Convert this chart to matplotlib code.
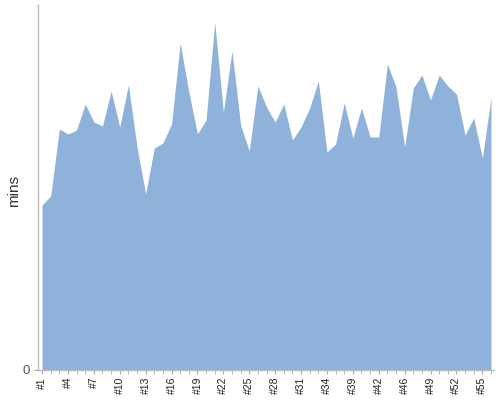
import matplotlib
matplotlib.use('Agg')
import matplotlib.pyplot as plt
from matplotlib import ticker

plt.rcParams['font.family'] = ['Liberation Sans', 'DejaVu Sans']

# run labels (only some are shown on the axis)
runs = ['#1', '#2', '#3', '#4', '#5', '#6', '#7', '#8', '#9', '#10',
        '#11', '#12', '#13', '#14', '#15', '#16', '#17', '#18', '#19', '#20',
        '#21', '#22', '#23', '#24', '#25', '#26', '#27', '#28', '#29', '#30',
        '#31', '#32', '#33', '#34', '#36', '#37', '#39', '#40', '#41', '#42',
        '#44', '#45', '#46', '#47', '#48', '#49', '#50', '#51', '#52', '#53',
        '#54', '#55', '#56']
# minutes per run
mins = [16.5, 17.4, 24.1, 23.6, 24.0, 26.6, 24.8, 24.4, 27.9, 24.3,
        28.5, 22.3, 17.6, 22.2, 22.7, 24.6, 32.7, 27.8, 23.6, 25.0,
        34.8, 25.8, 31.9, 24.5, 21.9, 28.4, 26.3, 24.8, 26.6, 23.0,
        24.3, 26.2, 28.9, 21.8, 22.6, 26.7, 23.2, 26.2, 23.3, 23.3,
        30.6, 28.3, 22.3, 28.2, 29.5, 27.0, 29.5, 28.4, 27.6, 23.5,
        25.2, 21.2, 27.2]

fig = plt.figure(figsize=(5, 4), dpi=100)
ax = fig.add_axes([0.076, 0.075, 0.912, 0.9125])

x = list(range(len(mins)))
ax.fill_between(x, mins, 0, color='#8FB2DA', linewidth=0)

ax.set_xlim(-0.47, len(mins) - 1 + 0.35)
ax.set_ylim(0, 36.5)

ax.set_xticks(x[::3])
ax.set_xticklabels(runs[::3], rotation=90, fontsize=7.5, color='#222222')
ax.xaxis.set_minor_locator(ticker.FixedLocator(x))
ax.tick_params(axis='x', which='both', length=3, color='#aaaaaa', pad=2)

ax.set_yticks([0])
ax.set_yticklabels(['0'], fontsize=9.5, color='#555555')
ax.tick_params(axis='y', length=3, color='#aaaaaa', pad=3)
ax.set_ylabel('mins', fontsize=11, color='#333333')
ax.yaxis.set_label_coords(-0.038, 0.49)

for side in ['top', 'right']:
    ax.spines[side].set_visible(False)
for side in ['left', 'bottom']:
    ax.spines[side].set_color('#bbbbbb')
    ax.spines[side].set_linewidth(1)

fig.savefig('out.png', dpi=100)
plt.close()
